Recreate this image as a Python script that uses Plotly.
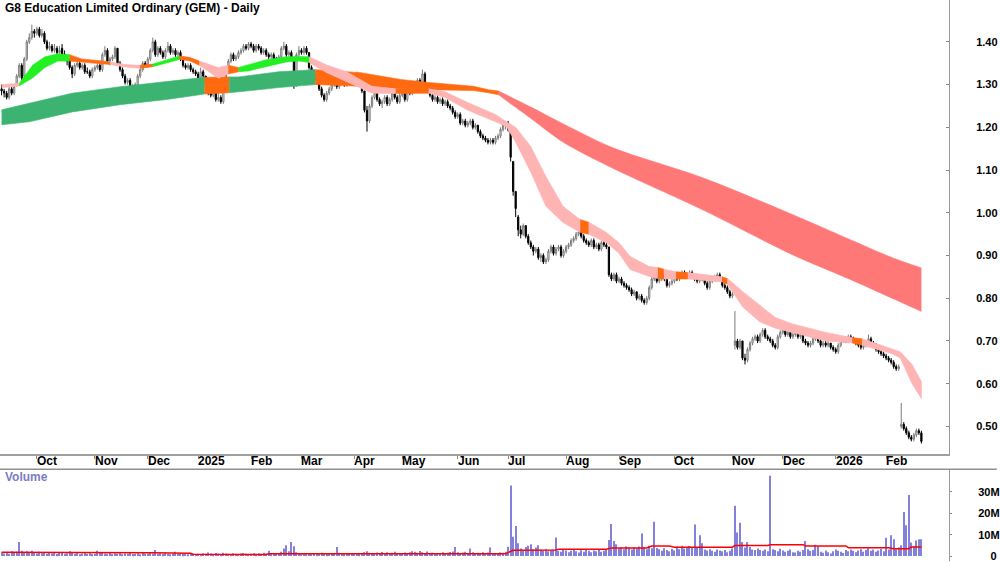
import plotly.graph_objects as go

# ---------------- DATA ----------------
N_BARS = 366  # trading days, mid-Sep 2024 .. late Feb 2026

month_labels = ["Oct", "Nov", "Dec", "2025", "Feb", "Mar", "Apr", "May", "Jun",
                "Jul", "Aug", "Sep", "Oct", "Nov", "Dec", "2026", "Feb"]
month_bar_idx = [14, 37, 58, 78, 99, 119, 140, 159, 181, 201, 224, 245, 267, 290, 310, 331, 351]

open_px = [
    1.29, 1.285, 1.28, 1.27, 1.29, 1.28, 1.30, 1.32, 1.345, 1.32, 1.36, 1.40,
    1.41, 1.425, 1.42, 1.43, 1.415, 1.42, 1.40, 1.385, 1.39, 1.38, 1.385, 1.375,
    1.385, 1.37, 1.36, 1.355, 1.34, 1.325, 1.345, 1.35, 1.34, 1.345, 1.33, 1.33, 1.32, 1.335, 1.34, 1.345,
    1.335, 1.37, 1.38, 1.355, 1.36, 1.365, 1.385, 1.35, 1.335, 1.32, 1.305, 1.31, 1.295, 1.285, 1.30, 1.32, 1.335, 1.35, 1.345,
    1.36, 1.38, 1.40, 1.37, 1.385, 1.375, 1.365, 1.38, 1.39, 1.375, 1.38, 1.37, 1.375, 1.36,
    1.345, 1.34, 1.345, 1.335, 1.33, 1.325, 1.31, 1.33, 1.32, 1.30, 1.28, 1.275, 1.285, 1.265, 1.27, 1.26, 1.30, 1.33, 1.355, 1.37, 1.36, 1.365,
    1.375, 1.38, 1.39, 1.385, 1.395, 1.39, 1.38, 1.39, 1.385, 1.375, 1.38, 1.37, 1.365, 1.37, 1.36, 1.355, 1.365, 1.385, 1.39, 1.37, 1.375, 1.36, 1.30, 1.37, 1.38, 1.375, 1.385,
    1.375, 1.34, 1.33, 1.325, 1.31, 1.29, 1.275, 1.265, 1.28, 1.29, 1.30, 1.31, 1.295, 1.305, 1.31, 1.30, 1.31, 1.315, 1.305, 1.31, 1.32, 1.30, 1.285, 1.24,
    1.215, 1.25, 1.27, 1.28, 1.265, 1.255, 1.26, 1.27, 1.255, 1.265, 1.28, 1.27, 1.26, 1.275, 1.28, 1.265, 1.285, 1.28, 1.29, 1.30,
    1.31, 1.305, 1.325, 1.30, 1.285, 1.275, 1.265, 1.27, 1.26, 1.265, 1.255, 1.26, 1.25, 1.245, 1.235, 1.225, 1.23, 1.21, 1.215,
    1.205, 1.21, 1.215, 1.20, 1.205, 1.19, 1.18, 1.175, 1.17, 1.165, 1.17, 1.165, 1.175, 1.18, 1.195, 1.205, 1.21,
    1.19, 1.12, 1.05, 0.99, 0.96, 0.95, 0.97, 0.945, 0.93, 0.92, 0.91, 0.915, 0.895, 0.90, 0.885, 0.89, 0.91, 0.92, 0.905, 0.915,
    0.92, 0.90, 0.91, 0.92, 0.925, 0.935, 0.94, 0.95, 0.955, 0.945, 0.935, 0.93, 0.925, 0.935, 0.92, 0.925, 0.915, 0.93, 0.925,
    0.92, 0.855, 0.845, 0.855, 0.84, 0.845, 0.835, 0.83, 0.825, 0.82, 0.81, 0.815, 0.80, 0.805, 0.795, 0.79, 0.80, 0.825, 0.845, 0.85,
    0.84, 0.845, 0.855, 0.845, 0.83, 0.835, 0.84, 0.85, 0.845, 0.855, 0.86, 0.85, 0.855, 0.86, 0.85, 0.845, 0.84, 0.85,
    0.845, 0.835, 0.825, 0.84, 0.845, 0.85, 0.855, 0.845, 0.83, 0.825, 0.815, 0.805,
    0.69, 0.70, 0.685, 0.70, 0.66, 0.655, 0.68, 0.695, 0.705, 0.71, 0.70, 0.715, 0.725, 0.71, 0.705, 0.70, 0.69, 0.685, 0.71, 0.72,
    0.725, 0.715, 0.72, 0.71, 0.715, 0.72, 0.71, 0.715, 0.70, 0.695, 0.69, 0.695, 0.705, 0.715, 0.70, 0.69, 0.695, 0.69, 0.695, 0.685,
    0.68, 0.675, 0.69, 0.70, 0.705, 0.70, 0.71, 0.705, 0.70, 0.695, 0.69, 0.685, 0.69, 0.695, 0.705, 0.695, 0.69, 0.68, 0.675, 0.67,
    0.665, 0.66, 0.655, 0.65, 0.64, 0.635,
    0.50, 0.505, 0.495, 0.485, 0.475, 0.47, 0.48, 0.49, 0.485,
]
high_px = [
    1.30, 1.29, 1.285, 1.295, 1.295, 1.30, 1.325, 1.35, 1.35, 1.365, 1.405, 1.42,
    1.44, 1.43, 1.435, 1.435, 1.43, 1.425, 1.405, 1.40, 1.395, 1.395, 1.39, 1.39,
    1.395, 1.38, 1.37, 1.36, 1.345, 1.35, 1.36, 1.355, 1.35, 1.35, 1.34, 1.335, 1.34, 1.345, 1.35, 1.35,
    1.375, 1.39, 1.385, 1.365, 1.37, 1.39, 1.385, 1.355, 1.34, 1.325, 1.315, 1.315, 1.30, 1.305, 1.325, 1.34, 1.355, 1.355, 1.365,
    1.385, 1.41, 1.405, 1.39, 1.39, 1.38, 1.385, 1.40, 1.395, 1.385, 1.385, 1.38, 1.38, 1.365,
    1.35, 1.35, 1.35, 1.34, 1.335, 1.33, 1.34, 1.335, 1.32, 1.305, 1.29, 1.29, 1.29, 1.28, 1.275, 1.305, 1.335, 1.36, 1.375, 1.375, 1.37, 1.38,
    1.385, 1.395, 1.395, 1.40, 1.40, 1.395, 1.395, 1.395, 1.39, 1.385, 1.385, 1.375, 1.375, 1.375, 1.365, 1.37, 1.39, 1.40, 1.395, 1.38, 1.38, 1.365, 1.375, 1.39, 1.385, 1.39, 1.39,
    1.375, 1.345, 1.335, 1.33, 1.315, 1.295, 1.28, 1.285, 1.295, 1.305, 1.315, 1.315, 1.31, 1.315, 1.315, 1.315, 1.32, 1.32, 1.315, 1.33, 1.325, 1.30, 1.285, 1.25,
    1.255, 1.275, 1.29, 1.285, 1.27, 1.265, 1.275, 1.275, 1.27, 1.285, 1.285, 1.275, 1.28, 1.285, 1.285, 1.29, 1.29, 1.295, 1.305, 1.315,
    1.315, 1.335, 1.33, 1.30, 1.29, 1.28, 1.275, 1.275, 1.27, 1.27, 1.265, 1.265, 1.255, 1.25, 1.24, 1.235, 1.235, 1.22, 1.22,
    1.215, 1.22, 1.22, 1.21, 1.205, 1.195, 1.185, 1.18, 1.175, 1.175, 1.175, 1.18, 1.185, 1.20, 1.21, 1.215, 1.215,
    1.19, 1.12, 1.05, 0.995, 0.97, 0.975, 0.97, 0.95, 0.935, 0.925, 0.92, 0.92, 0.905, 0.905, 0.895, 0.915, 0.925, 0.925, 0.92, 0.925,
    0.925, 0.915, 0.925, 0.93, 0.94, 0.945, 0.955, 0.96, 0.96, 0.95, 0.94, 0.935, 0.94, 0.94, 0.93, 0.93, 0.935, 0.935, 0.93,
    0.92, 0.86, 0.86, 0.86, 0.85, 0.85, 0.84, 0.835, 0.83, 0.825, 0.82, 0.815, 0.81, 0.81, 0.80, 0.805, 0.83, 0.85, 0.86, 0.855,
    0.85, 0.86, 0.86, 0.85, 0.84, 0.845, 0.855, 0.855, 0.86, 0.865, 0.865, 0.86, 0.865, 0.865, 0.855, 0.85, 0.855, 0.855,
    0.85, 0.84, 0.845, 0.85, 0.855, 0.86, 0.86, 0.85, 0.835, 0.83, 0.82, 0.815,
    0.77, 0.705, 0.705, 0.70, 0.67, 0.685, 0.70, 0.71, 0.715, 0.715, 0.72, 0.73, 0.73, 0.715, 0.71, 0.705, 0.695, 0.715, 0.725, 0.73,
    0.73, 0.725, 0.725, 0.72, 0.725, 0.72, 0.72, 0.72, 0.705, 0.70, 0.70, 0.71, 0.72, 0.715, 0.705, 0.70, 0.70, 0.70, 0.695, 0.69,
    0.685, 0.695, 0.705, 0.71, 0.71, 0.715, 0.715, 0.71, 0.705, 0.70, 0.695, 0.695, 0.70, 0.715, 0.71, 0.70, 0.695, 0.685, 0.68, 0.675,
    0.67, 0.665, 0.66, 0.655, 0.645, 0.645,
    0.555, 0.51, 0.50, 0.49, 0.48, 0.485, 0.495, 0.495, 0.49,
]
low_px = [
    1.275, 1.27, 1.265, 1.265, 1.275, 1.275, 1.295, 1.315, 1.31, 1.315, 1.355, 1.395,
    1.405, 1.41, 1.415, 1.41, 1.41, 1.395, 1.38, 1.38, 1.375, 1.375, 1.37, 1.36,
    1.365, 1.355, 1.345, 1.335, 1.315, 1.32, 1.34, 1.335, 1.335, 1.325, 1.325, 1.315, 1.315, 1.33, 1.335, 1.33,
    1.33, 1.365, 1.35, 1.345, 1.355, 1.36, 1.345, 1.33, 1.315, 1.30, 1.30, 1.29, 1.28, 1.28, 1.295, 1.315, 1.33, 1.34, 1.34,
    1.355, 1.375, 1.365, 1.365, 1.37, 1.36, 1.36, 1.375, 1.37, 1.37, 1.365, 1.365, 1.355, 1.34,
    1.335, 1.335, 1.33, 1.325, 1.32, 1.305, 1.305, 1.315, 1.295, 1.275, 1.27, 1.27, 1.26, 1.26, 1.255, 1.255, 1.295, 1.325, 1.35, 1.355, 1.355, 1.36,
    1.37, 1.375, 1.38, 1.38, 1.385, 1.375, 1.375, 1.38, 1.37, 1.37, 1.365, 1.36, 1.36, 1.355, 1.35, 1.35, 1.36, 1.38, 1.365, 1.365, 1.355, 1.29, 1.295, 1.365, 1.37, 1.37, 1.37,
    1.335, 1.325, 1.32, 1.30, 1.285, 1.27, 1.26, 1.26, 1.275, 1.285, 1.295, 1.29, 1.29, 1.30, 1.295, 1.295, 1.305, 1.30, 1.30, 1.305, 1.295, 1.28, 1.235, 1.19,
    1.21, 1.245, 1.265, 1.26, 1.25, 1.245, 1.255, 1.25, 1.25, 1.26, 1.265, 1.255, 1.255, 1.27, 1.26, 1.26, 1.275, 1.275, 1.285, 1.295,
    1.30, 1.30, 1.295, 1.28, 1.27, 1.26, 1.26, 1.255, 1.255, 1.25, 1.25, 1.245, 1.24, 1.23, 1.22, 1.22, 1.205, 1.205, 1.20,
    1.20, 1.205, 1.195, 1.195, 1.185, 1.175, 1.17, 1.165, 1.16, 1.16, 1.16, 1.16, 1.17, 1.175, 1.19, 1.195, 1.19,
    1.12, 1.04, 0.99, 0.945, 0.94, 0.945, 0.94, 0.925, 0.915, 0.90, 0.905, 0.89, 0.885, 0.88, 0.88, 0.885, 0.905, 0.90, 0.90, 0.91,
    0.895, 0.895, 0.905, 0.915, 0.92, 0.93, 0.935, 0.945, 0.94, 0.93, 0.925, 0.92, 0.92, 0.915, 0.915, 0.91, 0.91, 0.92, 0.915,
    0.85, 0.84, 0.84, 0.835, 0.835, 0.83, 0.825, 0.82, 0.815, 0.805, 0.805, 0.795, 0.795, 0.79, 0.785, 0.785, 0.795, 0.82, 0.84, 0.835,
    0.835, 0.84, 0.84, 0.825, 0.825, 0.83, 0.835, 0.84, 0.84, 0.85, 0.845, 0.845, 0.85, 0.845, 0.84, 0.835, 0.835, 0.84,
    0.83, 0.82, 0.82, 0.835, 0.84, 0.845, 0.84, 0.825, 0.82, 0.81, 0.80, 0.80,
    0.68, 0.68, 0.68, 0.655, 0.645, 0.65, 0.675, 0.69, 0.70, 0.695, 0.695, 0.71, 0.705, 0.70, 0.695, 0.685, 0.68, 0.68, 0.705, 0.715,
    0.71, 0.71, 0.705, 0.705, 0.71, 0.705, 0.705, 0.695, 0.69, 0.685, 0.685, 0.69, 0.70, 0.695, 0.685, 0.685, 0.685, 0.685, 0.68, 0.675,
    0.67, 0.67, 0.685, 0.695, 0.695, 0.695, 0.70, 0.695, 0.69, 0.685, 0.68, 0.68, 0.685, 0.69, 0.69, 0.685, 0.675, 0.67, 0.665, 0.66,
    0.655, 0.65, 0.645, 0.635, 0.63, 0.63,
    0.495, 0.49, 0.48, 0.47, 0.465, 0.465, 0.475, 0.48, 0.46,
]
close_px = [
    1.285, 1.28, 1.27, 1.29, 1.28, 1.295, 1.32, 1.345, 1.315, 1.36, 1.40, 1.41,
    1.425, 1.42, 1.43, 1.415, 1.42, 1.40, 1.385, 1.39, 1.38, 1.385, 1.375, 1.38,
    1.37, 1.36, 1.355, 1.34, 1.325, 1.345, 1.35, 1.34, 1.345, 1.33, 1.33, 1.32, 1.335, 1.34, 1.345, 1.335,
    1.37, 1.38, 1.355, 1.36, 1.365, 1.385, 1.35, 1.335, 1.32, 1.305, 1.31, 1.295, 1.285, 1.30, 1.32, 1.335, 1.35, 1.345, 1.36,
    1.38, 1.40, 1.37, 1.385, 1.375, 1.365, 1.38, 1.39, 1.375, 1.38, 1.37, 1.375, 1.36, 1.345,
    1.34, 1.345, 1.335, 1.33, 1.325, 1.31, 1.33, 1.32, 1.30, 1.28, 1.275, 1.285, 1.265, 1.27, 1.26, 1.30, 1.33, 1.355, 1.37, 1.36, 1.365, 1.375,
    1.38, 1.39, 1.385, 1.395, 1.39, 1.38, 1.39, 1.385, 1.375, 1.38, 1.37, 1.365, 1.37, 1.36, 1.355, 1.365, 1.385, 1.39, 1.37, 1.375, 1.36, 1.30, 1.37, 1.38, 1.375, 1.385, 1.375,
    1.34, 1.33, 1.325, 1.31, 1.29, 1.275, 1.265, 1.28, 1.29, 1.30, 1.31, 1.295, 1.305, 1.31, 1.30, 1.31, 1.315, 1.305, 1.31, 1.32, 1.30, 1.285, 1.24, 1.215,
    1.25, 1.27, 1.28, 1.265, 1.255, 1.26, 1.27, 1.255, 1.265, 1.28, 1.27, 1.26, 1.275, 1.28, 1.265, 1.285, 1.28, 1.29, 1.30, 1.31,
    1.305, 1.325, 1.30, 1.285, 1.275, 1.265, 1.27, 1.26, 1.265, 1.255, 1.26, 1.25, 1.245, 1.235, 1.225, 1.23, 1.21, 1.215, 1.205,
    1.21, 1.215, 1.20, 1.205, 1.19, 1.18, 1.175, 1.17, 1.165, 1.17, 1.165, 1.175, 1.18, 1.195, 1.205, 1.21, 1.195,
    1.13, 1.05, 1.01, 0.96, 0.95, 0.97, 0.945, 0.93, 0.92, 0.91, 0.915, 0.895, 0.90, 0.885, 0.89, 0.91, 0.92, 0.905, 0.915, 0.92,
    0.90, 0.91, 0.92, 0.925, 0.935, 0.94, 0.95, 0.955, 0.945, 0.935, 0.93, 0.925, 0.935, 0.92, 0.925, 0.915, 0.93, 0.925, 0.92,
    0.855, 0.845, 0.855, 0.84, 0.845, 0.835, 0.83, 0.825, 0.82, 0.81, 0.815, 0.80, 0.805, 0.795, 0.79, 0.80, 0.825, 0.845, 0.85, 0.84,
    0.845, 0.855, 0.845, 0.83, 0.835, 0.84, 0.85, 0.845, 0.855, 0.86, 0.85, 0.855, 0.86, 0.85, 0.845, 0.84, 0.85, 0.845,
    0.835, 0.825, 0.84, 0.845, 0.85, 0.855, 0.845, 0.83, 0.825, 0.815, 0.805, 0.81,
    0.70, 0.685, 0.70, 0.66, 0.655, 0.68, 0.695, 0.705, 0.71, 0.70, 0.715, 0.725, 0.71, 0.705, 0.70, 0.69, 0.685, 0.71, 0.72, 0.725,
    0.715, 0.72, 0.71, 0.715, 0.72, 0.71, 0.715, 0.70, 0.695, 0.69, 0.695, 0.705, 0.715, 0.70, 0.69, 0.695, 0.69, 0.695, 0.685, 0.68,
    0.675, 0.69, 0.70, 0.705, 0.70, 0.71, 0.705, 0.70, 0.695, 0.69, 0.685, 0.69, 0.695, 0.705, 0.695, 0.69, 0.68, 0.675, 0.67, 0.665,
    0.66, 0.655, 0.65, 0.64, 0.635, 0.64,
    0.505, 0.495, 0.485, 0.475, 0.47, 0.48, 0.49, 0.485, 0.465,
]
# daily volume, millions of shares
volume_m = [
    1.5, 1.2, 1.8, 1.0, 2.2, 1.4, 2.0, 6.5, 2.5, 1.8, 2.2, 1.5, 2.4, 1.6, 1.2, 2.0, 1.3, 1.8, 1.1, 1.5,
    1.2, 1.6, 0.9, 1.4, 1.8, 1.1, 1.3, 2.2, 1.5, 1.0, 1.4, 0.8, 1.2, 1.6, 1.0, 1.3, 0.9, 1.1, 2.5, 1.4,
    1.8, 1.2, 1.0, 1.5, 0.9, 1.3, 1.1, 1.6, 0.8, 1.2, 1.0, 1.4, 0.9, 1.1, 1.3, 0.8, 1.5, 1.2, 1.0, 1.4,
    1.2, 2.8, 1.0, 1.3, 0.9, 1.5, 1.1, 0.8, 1.2, 2.0, 1.0, 1.3, 0.9, 1.1, 0.7, 1.2, 1.0, 0.8, 1.1, 0.9,
    1.3, 1.0, 1.6, 1.2, 0.8, 1.4, 1.1, 0.9, 1.5, 1.2, 1.0, 0.8, 1.3, 1.1, 0.9, 1.2, 1.4, 1.0, 0.8, 1.1,
    1.3, 0.9, 1.2, 1.0, 1.5, 1.1, 2.5, 0.9, 1.2, 1.0, 1.4, 2.0, 3.5, 5.0, 2.2, 6.5, 4.6, 1.8, 1.3, 1.0,
    1.2, 0.9, 1.4, 1.1, 1.0, 0.8, 1.3, 1.5, 1.1, 0.9, 1.2, 1.0, 1.3, 4.2, 1.5, 1.1, 0.9, 1.3, 1.0, 1.2,
    1.4, 1.1, 0.9, 1.2, 1.8, 2.2, 1.5, 1.3, 1.0, 1.6, 1.2, 1.9, 1.4, 1.7, 1.3, 1.5, 2.0, 1.2, 1.4, 1.1,
    1.6, 1.3, 1.8, 2.2, 2.0, 1.5, 2.3, 1.8, 1.4, 2.1, 1.2, 1.6, 1.3, 1.0, 1.4, 1.7, 1.1, 1.5, 1.9, 2.1,
    4.2, 1.8, 1.3, 1.6, 2.0, 1.4, 3.5, 1.7, 1.2, 1.5, 1.1, 1.8, 1.3, 1.6, 4.0, 1.2, 1.0, 1.4, 1.7, 1.5,
    2.0, 4.3, 33.0, 9.0, 14.0, 6.0, 3.5, 2.8, 4.2, 4.8, 5.5, 3.2, 4.0, 5.0, 3.0, 2.5, 3.2, 2.2, 2.8, 3.0,
    8.7, 2.5, 2.0, 3.0, 2.6, 1.8, 2.4, 3.0, 2.2, 1.6, 2.7, 2.0, 3.2, 2.4, 1.8, 2.6, 2.2, 3.0, 2.0, 2.5,
    3.0, 7.5, 15.0, 7.0, 5.5, 3.5, 4.0, 3.2, 4.5, 4.0, 3.0, 4.2, 3.5, 4.5, 10.5, 4.0, 3.2, 4.8, 3.6, 16.0,
    3.8, 3.2, 2.5, 3.6, 2.8, 2.2, 3.4, 2.6, 4.5, 3.2, 4.8, 3.5, 4.0, 4.7, 3.8, 14.7, 4.0, 9.7, 6.0, 3.0,
    2.6, 3.2, 2.4, 2.0, 3.0, 2.6, 2.2, 2.8, 1.8, 2.4, 3.5, 23.5, 11.0, 15.6, 6.5, 4.0, 6.5, 4.2, 3.0, 2.8,
    3.5, 2.8, 2.4, 3.0, 2.2, 37.6, 3.2, 2.8, 2.2, 3.4, 2.6, 2.0, 2.4, 3.0, 1.8, 1.6, 2.5, 2.0, 2.8, 7.0,
    3.2, 2.4, 2.8, 5.3, 4.5, 2.0, 1.5, 2.6, 1.8, 1.2, 2.2, 3.0, 2.5, 2.0, 1.4, 2.8, 2.2, 3.0, 2.4, 1.8,
    2.6, 3.2, 2.0, 2.8, 3.6, 2.4, 3.0, 2.0, 2.6, 3.4, 2.2, 8.5, 3.0, 9.7, 7.8, 3.2, 4.0, 5.0, 20.6, 14.4,
    28.6, 6.3, 4.5, 7.2, 7.8, 7.8,
]
# volume moving average (red line), millions, read at bar indices
vol_ma_idx = [0, 30, 60, 75, 76, 105, 106, 200, 202, 203, 220, 221, 240, 242, 256, 258, 265, 267,
              290, 291, 304, 305, 318, 319, 335, 336, 352, 354, 360, 361, 365]
vol_ma_m = [1.7, 1.7, 1.5, 1.3, 0.8, 0.7, 1.0, 1.0, 2.4, 2.7, 2.8, 3.2, 3.2, 3.8, 3.8, 4.7, 4.7, 4.1,
            4.1, 4.9, 4.9, 5.3, 5.3, 4.7, 4.7, 3.9, 3.9, 3.4, 3.4, 4.2, 4.2]

# short-term moving-average ribbon: bar index, upper, lower, colour state of following segment
short_idx = [0, 7, 12.4, 17.2, 22.3, 27, 31.8, 39, 43, 49, 55, 60, 65, 70.6, 74.5, 78.5, 81, 86, 90, 94,
             98, 105, 113, 118, 122, 129, 137, 147, 156.4, 169.5, 176, 185, 196, 200.3, 204, 210, 216,
             222.8, 229.6, 233, 240, 245, 249.4, 257, 260.4, 262.8, 267.6, 272.3, 278, 286, 288, 290,
             294, 300.8, 307, 313.8, 327, 337.6, 341.5, 353.4, 356.6, 361.3, 365]
short_hi = [1.300, 1.303, 1.346, 1.365, 1.372, 1.37, 1.36, 1.356, 1.353, 1.347, 1.345, 1.348, 1.357, 1.367,
            1.364, 1.355, 1.35, 1.34, 1.345, 1.34, 1.346, 1.358, 1.365, 1.366, 1.365, 1.346, 1.33, 1.296,
            1.29, 1.29, 1.283, 1.258, 1.23, 1.213, 1.20, 1.155, 1.085, 1.015, 0.984, 0.978, 0.954, 0.93,
            0.898, 0.874, 0.872, 0.868, 0.862, 0.86, 0.856, 0.85, 0.846, 0.837, 0.816, 0.785, 0.755, 0.74,
            0.72, 0.708, 0.705, 0.68, 0.675, 0.645, 0.605]
short_lo = [1.293, 1.297, 1.316, 1.34, 1.355, 1.355, 1.352, 1.349, 1.347, 1.341, 1.338, 1.342, 1.35, 1.359,
            1.356, 1.345, 1.335, 1.315, 1.325, 1.33, 1.332, 1.342, 1.353, 1.355, 1.352, 1.328, 1.307, 1.28,
            1.279, 1.28, 1.27, 1.24, 1.213, 1.202, 1.165, 1.095, 1.015, 0.977, 0.954, 0.95, 0.93, 0.905,
            0.867, 0.851, 0.846, 0.845, 0.845, 0.845, 0.842, 0.838, 0.833, 0.816, 0.78, 0.745, 0.73, 0.72,
            0.70, 0.695, 0.69, 0.67, 0.66, 0.60, 0.565]
short_state = ["down", "up", "up", "up", "up", "mixed", "mixed", "mixed", "down", "down", "mixed", "up",
               "up", "mixed", "mixed", "down", "down", "down", "mixed", "up", "up", "up", "up", "up",
               "down", "down", "down", "down", "mixed", "down", "down", "down", "down", "down", "down",
               "down", "down", "down", "mixed", "down", "down", "down", "down", "down", "mixed", "down",
               "mixed", "down", "down", "mixed", "down", "down", "down", "down", "down", "down", "down",
               "mixed", "down", "down", "down", "down", "down"]

# long-term moving-average ribbon
long_idx = [0, 11, 28, 47, 65.4, 78.5, 80.5, 90.3, 94, 110, 124.5, 142.6, 158.4, 169.5, 187.3, 193.2,
            197.2, 209.8, 222.9, 242.6, 278.2, 313.8, 336.8, 353.4, 365]
long_hi = [1.241, 1.257, 1.28, 1.295, 1.307, 1.316, 1.317, 1.318, 1.318, 1.33, 1.335, 1.328, 1.312, 1.305,
           1.296, 1.288, 1.285, 1.248, 1.208, 1.152, 1.082, 0.996, 0.937, 0.895, 0.871]
long_lo = [1.206, 1.213, 1.236, 1.253, 1.265, 1.276, 1.278, 1.281, 1.283, 1.293, 1.30, 1.296, 1.29, 1.288,
           1.286, 1.281, 1.276, 1.222, 1.165, 1.104, 1.007, 0.902, 0.844, 0.80, 0.769]
long_state = ["up", "up", "up", "up", "up", "up", "mixed", "up", "up", "up", "mixed", "mixed", "mixed",
              "mixed", "mixed", "mixed", "down", "down", "down", "down", "down", "down", "down", "down", "down"]

# ---------------- STYLE ----------------
FONT = "Liberation Sans Narrow, Arial Narrow, Liberation Sans, Arial, sans-serif"
SHORT_COL = {"up": "#22f022", "mixed": "#ff6a10", "down": "#ffb4b4"}
LONG_COL = {"up": "#3cb371", "mixed": "#ff6a10", "down": "#ff7878"}
W, H = 1000, 562
PLOT_R = 952          # right edge of plot area (px)
PRICE_BOTTOM = 455    # px from top
VOL_TOP = 470

for name, arr in [("open", open_px), ("high", high_px), ("low", low_px), ("close", close_px),
                  ("volume", volume_m)]:
    if len(arr) != N_BARS:
        raise ValueError(f"{name} has {len(arr)} values")

bar_idx = list(range(N_BARS))

fig = go.Figure()


def add_ribbon(ix, hi, lo, states, colors, smooth_state=None):
    start = 0
    nseg = len(ix) - 1
    while start < nseg:
        end = start + 1
        while end < nseg and states[end] == states[start]:
            end += 1
        seg_x = list(ix[start:end + 1])
        col = colors[states[start]]
        if states[start] == smooth_state:
            # draw upper and lower edges as smooth lines, fill between them
            fig.add_trace(go.Scatter(x=seg_x, y=list(lo[start:end + 1]), mode="lines",
                                     line=dict(color=col, width=0.6, shape="spline", smoothing=0.8),
                                     hoverinfo="skip", showlegend=False, xaxis="x", yaxis="y"))
            fig.add_trace(go.Scatter(x=seg_x, y=list(hi[start:end + 1]), mode="lines",
                                     fill="tonexty", fillcolor=col,
                                     line=dict(color=col, width=0.6, shape="spline", smoothing=0.8),
                                     hoverinfo="skip", showlegend=False, xaxis="x", yaxis="y"))
        else:
            xs = seg_x + seg_x[::-1]
            ys = list(hi[start:end + 1]) + list(lo[start:end + 1])[::-1]
            fig.add_trace(go.Scatter(x=xs, y=ys, fill="toself", fillcolor=col, mode="lines",
                                     line=dict(color=col, width=0.6), hoverinfo="skip",
                                     showlegend=False, xaxis="x", yaxis="y"))
        start = end


add_ribbon(long_idx, long_hi, long_lo, long_state, LONG_COL, smooth_state="down")
add_ribbon(short_idx, short_hi, short_lo, short_state, SHORT_COL)

fig.add_trace(go.Candlestick(
    x=bar_idx, open=open_px, high=high_px, low=low_px, close=close_px,
    increasing=dict(line=dict(color="#7a7a7a", width=1), fillcolor="#ffffff"),
    decreasing=dict(line=dict(color="#000000", width=1), fillcolor="#000000"),
    whiskerwidth=0, showlegend=False, hoverinfo="skip", xaxis="x", yaxis="y"))

fig.add_trace(go.Bar(x=bar_idx, y=[v * 1e6 for v in volume_m], width=0.45,
                     marker=dict(color="#8282dc", line=dict(width=0)),
                     showlegend=False, hoverinfo="skip", xaxis="x2", yaxis="y2"))
fig.add_trace(go.Scatter(x=vol_ma_idx, y=[v * 1e6 for v in vol_ma_m], mode="lines",
                         line=dict(color="#ff0000", width=1.5), showlegend=False,
                         hoverinfo="skip", xaxis="x2", yaxis="y2"))

x_range = [-0.63, -0.63 + PLOT_R / 2.528]
price_ticks = [0.5, 0.6, 0.7, 0.8, 0.9, 1.0, 1.1, 1.2, 1.3, 1.4]
vol_ticks = [0, 10e6, 20e6, 30e6]

tickfont = dict(family=FONT, size=11, color="#000000", weight="bold")
fig.update_layout(
    width=W, height=H, margin=dict(l=0, r=W - PLOT_R, t=0, b=0),
    paper_bgcolor="white", plot_bgcolor="white", hovermode=False, showlegend=False,
    xaxis=dict(domain=[0, 1], range=x_range, anchor="y", showgrid=False, zeroline=False,
               tickvals=month_bar_idx, ticks="outside", ticklen=3, tickcolor="#888888",
               showticklabels=False, showline=True, linecolor="#a0a0a0", linewidth=1.5,
               rangeslider=dict(visible=False), fixedrange=True),
    yaxis=dict(domain=[(H - PRICE_BOTTOM) / H, 1], range=[0.435, 1.498], side="right",
               tickvals=price_ticks, ticktext=[f"{v:.2f}" for v in price_ticks],
               ticks="inside", ticklen=3, tickcolor="#888888", showline=True,
               linecolor="#999999", linewidth=1, showgrid=False, zeroline=False,
               tickfont=tickfont, ticklabelstandoff=24, fixedrange=True),
    xaxis2=dict(domain=[0, 1], range=x_range, anchor="y2", matches="x", showgrid=False,
                zeroline=False, showticklabels=False, ticks="", showline=False),
    yaxis2=dict(domain=[0, (H - VOL_TOP) / H], range=[-2.34e6, 40.66e6], side="right",
                tickvals=vol_ticks, ticktext=["\u2007\u20070", "10M", "20M", "30M"],
                ticks="outside", ticklen=2, tickcolor="#888888", showline=True,
                linecolor="#999999", linewidth=1, showgrid=False, zeroline=False,
                tickfont=tickfont, ticklabelstandoff=24, ticklabeloverflow="allow",
                fixedrange=True),
)

# separator line at the top of the volume panel (runs to the right edge)
fig.add_shape(type="line", xref="paper", yref="paper", x0=0, x1=W / PLOT_R,
              y0=(H - VOL_TOP) / H, y1=(H - VOL_TOP) / H,
              line=dict(color="#909090", width=1.5))

# month labels (left-aligned at their tick)
for lab, ix in zip(month_labels, month_bar_idx):
    fig.add_annotation(x=ix, xref="x", y=(H - 462) / H, yref="paper", text=lab,
                       showarrow=False, xanchor="left", yanchor="middle", xshift=-2,
                       font=dict(family=FONT, size=12, color="#000000", weight="bold"))

fig.add_annotation(x=3 / PLOT_R, xref="paper", y=1 - 8 / H, yref="paper",
                   text="G8 Education Limited Ordinary (GEM) - Daily", showarrow=False,
                   xanchor="left", yanchor="middle",
                   font=dict(family=FONT, size=12, color="#000000", weight="bold"))
fig.add_annotation(x=3 / PLOT_R, xref="paper", y=(H - 478) / H, yref="paper",
                   text="Volume", showarrow=False, xanchor="left", yanchor="middle",
                   font=dict(family=FONT, size=12, color="#7c7cc4", weight="bold"))

fig.write_html("out.html")
